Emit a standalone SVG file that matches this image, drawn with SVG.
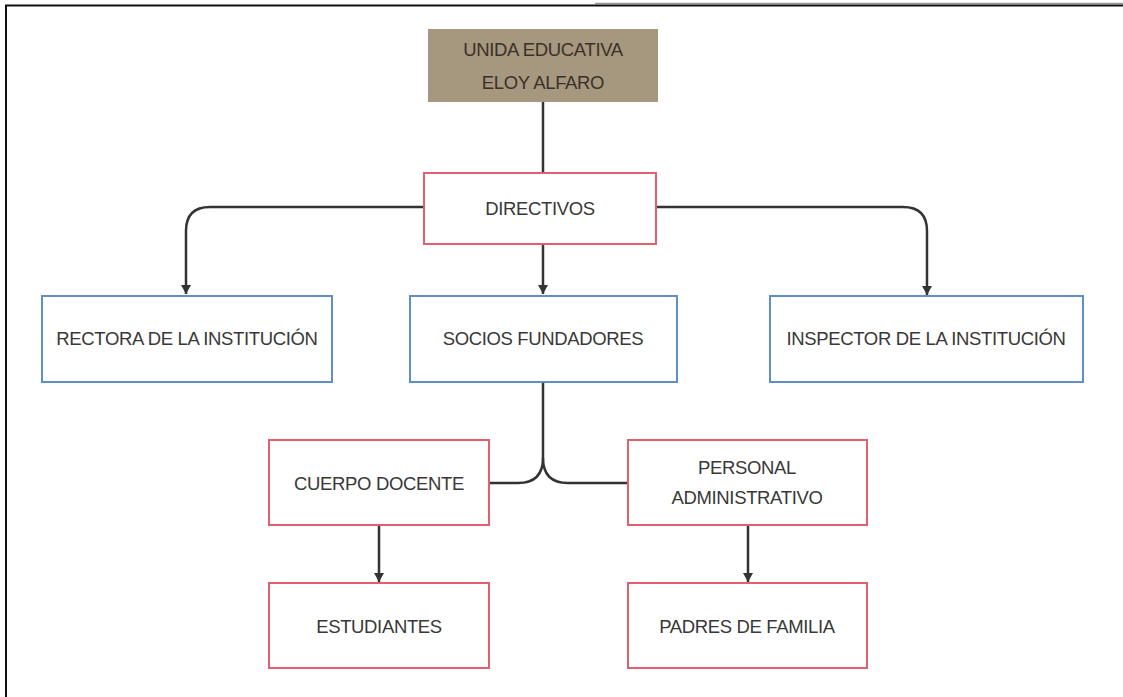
<svg xmlns="http://www.w3.org/2000/svg" width="1123" height="697" viewBox="0 0 1123 697">
<style>
.red{fill:#fff;stroke:#e0606e;stroke-width:2}
.blue{fill:#fff;stroke:#5f8fc4;stroke-width:2}
.t{font-family:"Liberation Sans",Arial,sans-serif;font-size:18.5px;fill:#383838;text-anchor:middle;letter-spacing:-0.35px}
.c{fill:none;stroke:#333;stroke-width:2.5}
</style>
<defs>
<marker id="a" markerWidth="10" markerHeight="9" refX="5" refY="9" orient="0" markerUnits="userSpaceOnUse" viewBox="0 0 10 9">
<path d="M0,0 L10,0 L5,9 Z" fill="#333"/>
</marker>
</defs>
<rect x="0" y="0" width="1123" height="697" fill="#fff"/>
<g id="frame">
<line x1="595" y1="3.5" x2="1123" y2="3.5" stroke="#999" stroke-width="1.5"/>
<line x1="5" y1="5.5" x2="1123" y2="5.5" stroke="#111" stroke-width="2"/>
<line x1="6" y1="5" x2="6" y2="697" stroke="#111" stroke-width="2"/>
</g>
<g id="connectors">
<line class="c" x1="543" y1="102" x2="543" y2="173"/>
<line class="c" x1="543" y1="244" x2="543" y2="294" marker-end="url(#a)"/>
<path class="c" d="M423,207 H210 Q186,207 186,231 V294" marker-end="url(#a)"/>
<path class="c" d="M656,207 H903 Q927,207 927,231 V295" marker-end="url(#a)"/>
<path class="c" d="M543,382 V458 Q543,483 518,483 H489"/>
<path class="c" d="M543,458 Q543,483 568,483 H628"/>
<line class="c" x1="379" y1="525" x2="379" y2="582" marker-end="url(#a)"/>
<line class="c" x1="748" y1="525" x2="748" y2="582" marker-end="url(#a)"/>
</g>
<g id="n-unida">
<rect x="428" y="29" width="230" height="73" fill="#a6977f"/>
<text class="t" x="543" y="56" style="fill:#3a3228">UNIDA EDUCATIVA</text>
<text class="t" x="543" y="89" style="fill:#3a3228">ELOY ALFARO</text>
</g>
<g id="n-directivos">
<rect class="red" x="424" y="173" width="232" height="71"/>
<text class="t" x="540" y="215">DIRECTIVOS</text>
</g>
<g id="n-rectora">
<rect class="blue" x="42" y="296" width="290" height="86"/>
<text class="t" x="187" y="345">RECTORA DE LA INSTITUCIÓN</text>
</g>
<g id="n-socios">
<rect class="blue" x="410" y="296" width="267" height="86"/>
<text class="t" x="543" y="345">SOCIOS FUNDADORES</text>
</g>
<g id="n-inspector">
<rect class="blue" x="770" y="296" width="313" height="86"/>
<text class="t" x="926" y="345">INSPECTOR DE LA INSTITUCIÓN</text>
</g>
<g id="n-cuerpo">
<rect class="red" x="269" y="440" width="220" height="85"/>
<text class="t" x="379" y="490">CUERPO DOCENTE</text>
</g>
<g id="n-personal">
<rect class="red" x="628" y="440" width="239" height="85"/>
<text class="t" x="747" y="474">PERSONAL</text>
<text class="t" x="747" y="504">ADMINISTRATIVO</text>
</g>
<g id="n-estudiantes">
<rect class="red" x="269" y="583" width="220" height="85"/>
<text class="t" x="379" y="633">ESTUDIANTES</text>
</g>
<g id="n-padres">
<rect class="red" x="628" y="583" width="239" height="85"/>
<text class="t" x="747" y="633">PADRES DE FAMILIA</text>
</g>
</svg>
